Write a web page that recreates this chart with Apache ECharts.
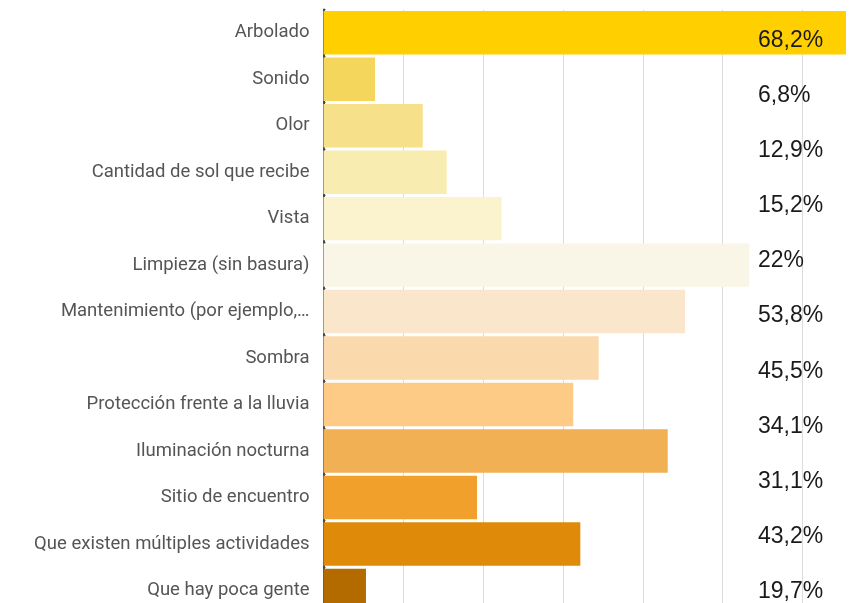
<!DOCTYPE html>
<html>
<head>
<meta charset="utf-8">
<script src="https://cdn.jsdelivr.net/npm/echarts@6/dist/echarts.min.js"></script>
<style>
html,body{margin:0;padding:0;background:#fff;}
#chart{width:851px;height:603px;}
</style>
</head>
<body>
<div id="chart"></div>
<script>
// Categories (top to bottom)
const categories = [
  "Arbolado",
  "Sonido",
  "Olor",
  "Cantidad de sol que recibe",
  "Vista",
  "Limpieza (sin basura)",
  "Mantenimiento (por ejemplo,…",
  "Sombra",
  "Protección frente a la lluvia",
  "Iluminación nocturna",
  "Sitio de encuentro",
  "Que existen múltiples actividades",
  "Que hay poca gente"
];
// Bar values (gridline step = 10)
const values = [68.2, 6.45, 12.43, 15.43, 22.32, 53.34, 45.28, 34.47, 31.29, 43.12, 19.23, 32.17, 5.32];
// Percentage text column on the right
const pctLabels = ["68,2%", "6,8%", "12,9%", "15,2%", "22%", "53,8%", "45,5%", "34,1%", "31,1%", "43,2%", "19,7%"];
// Bar colours
const palette = ["#FFCF00", "#F5D65D", "#F7E08A", "#F9ECB0", "#FBF3CD", "#FAF6E7", "#FAE6CB", "#FAD9AC", "#FDCB86", "#F1B053", "#F2A02C", "#E08A09", "#B36B00"];

const chart = echarts.init(document.getElementById('chart'), null, {renderer: 'canvas'});
chart.setOption({
  animation: false,
  backgroundColor: '#ffffff',
  grid: [
    {left: 323.5, top: 9.5, width: 522.5, height: 604.2, containLabel: false, outerBoundsMode: 'none'},
    {left: 758, top: 12.8, width: 90, height: 606.7, containLabel: false, outerBoundsMode: 'none'}
  ],
  xAxis: [
    {
      type: 'value', gridIndex: 0, min: 0, max: 65.45, interval: 10,
      axisLabel: {show: false}, axisLine: {show: false}, axisTick: {show: false},
      splitLine: {show: true, showMaxLine: false, lineStyle: {color: '#dcdcdc', width: 1}}
    },
    {type: 'value', gridIndex: 1, show: false, min: 0, max: 1}
  ],
  yAxis: [
    {
      type: 'category', gridIndex: 0, data: categories, inverse: true,
      axisLine: {show: true, lineStyle: {color: '#4a4a4a', width: 2}},
      axisTick: {show: true, inside: true, length: 2, lineStyle: {color: '#4a4a4a'}},
      axisLabel: {margin: 14, fontFamily: 'Roboto', fontSize: 18.5, color: '#555555'},
      splitLine: {show: false}
    },
    {
      type: 'category', gridIndex: 1, data: pctLabels, inverse: true, z: 10,
      axisLine: {show: false}, axisTick: {show: false}, splitLine: {show: false},
      axisLabel: {inside: true, margin: 0, align: 'left', fontFamily: 'Liberation Sans', fontSize: 23, color: '#1a1a1a'}
    }
  ],
  series: [
    {
      type: 'bar', xAxisIndex: 0, yAxisIndex: 0,
      data: values,
      clip: true,
      barCategoryGap: '6.5%',
      itemStyle: {color: (p) => palette[p.dataIndex]}
    }
  ]
});
</script>
</body>
</html>
